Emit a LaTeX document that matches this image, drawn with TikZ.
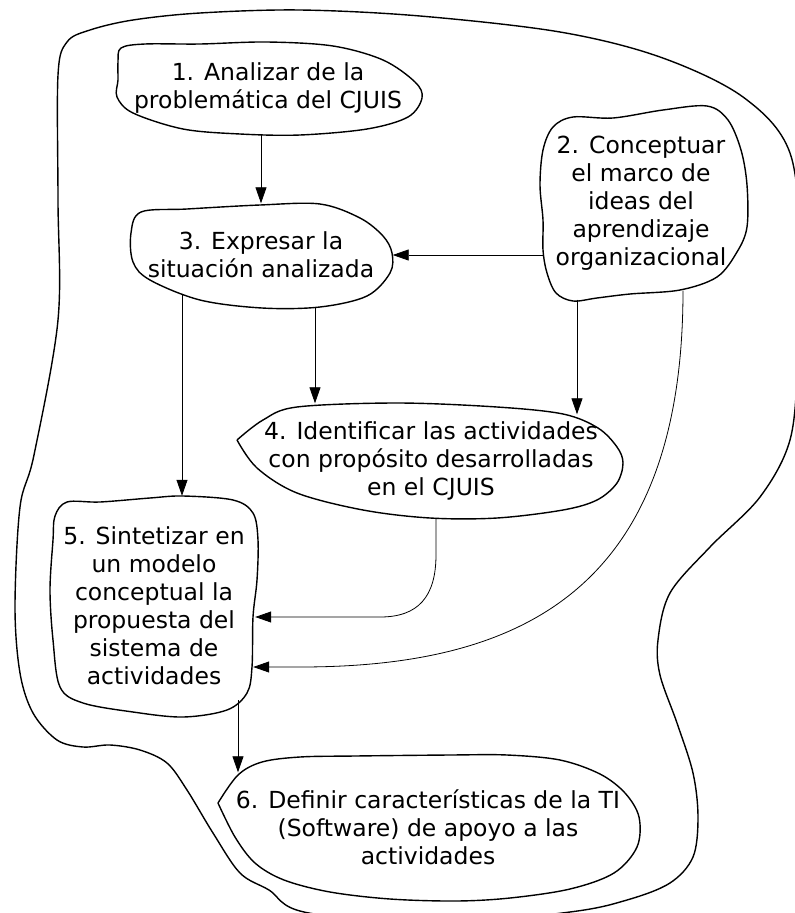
\documentclass[tikz,border=0pt]{standalone}
\usepackage{fontspec}
\setmainfont{DejaVu Sans}
\usetikzlibrary{arrows.meta}

\begin{document}
\begin{tikzpicture}[x=1pt, y=-1pt,
	lbl/.style={align=center, inner sep=0pt, font=\fontsize{23.5}{28}\selectfont},
	blob/.style={line width=1.4pt, line join=round},
	arr/.style={line width=0.8pt, -{Triangle[length=16pt,width=11pt]}}]

	\useasboundingbox (0,0) rectangle (795,913);

	%outer boundary of the system
	\draw[blob] plot[smooth cycle, tension=0.55] coordinates {
		(58,320) (58,200) (58,75) (67,42) (90,30) (133,20) (200,13) (300,10)
		(420,16) (560,32) (660,57) (743,97) (790,153) (801,260) (798,360)
		(790,440) (760,497) (710,547) (670,593) (658,640) (660,675) (677,723)
		(693,773) (698,817) (693,857) (670,883) (627,900) (570,912) (430,925)
		(304,912) (269,890) (240,873) (213,833) (187,790) (167,763) (140,750)
		(110,745) (83,747) (57,740) (33,713) (20,673) (15,607) (20,507) (34,455)};

	%the activities
	\node[lbl, minimum width=307pt, minimum height=92pt] (n1) at (268,88) {1. Analizar de la\\problemática del CJUIS};
	\node[lbl, minimum width=196pt, minimum height=193pt] (n2) at (641,203) {2. Conceptuar\\el marco de\\ideas del\\aprendizaje\\organizacional};
	\node[lbl, minimum width=263pt, minimum height=103pt] (n3) at (261,255) {3. Expresar la\\situación analizada};
	\node[lbl, minimum width=386pt, minimum height=115pt] (n4) at (431,461) {4. Identificar las actividades\\con propósito desarrolladas\\en el CJUIS};
	\node[lbl, minimum width=208pt, minimum height=220pt] (n5) at (154,606) {5. Sintetizar en\\un modelo\\conceptual la\\propuesta del\\sistema de\\actividades};
	\node[lbl, minimum width=422pt, minimum height=145pt] (n6) at (428,827) {6. Definir características de la TI\\(Software) de apoyo a las\\actividades};

	%outlines of the activities
	\draw[blob] plot[smooth cycle, tension=0.55] coordinates {
		(121,48) (145,44) (200,44) (267,42) (333,46) (383,60) (415,82) (422,98)
		(408,117) (367,129) (300,135) (240,134) (183,129) (133,113) (117,97)
		(118,80) (118,62)};
	\draw[blob] plot[smooth cycle, tension=0.55] coordinates {
		(553,127) (573,117) (613,118) (663,110) (707,106) (728,120) (741,150)
		(747,185) (747,227) (737,252) (717,277) (680,290) (630,294) (597,298)
		(573,301) (556,293) (547,273) (543,250) (543,220) (540,185) (543,150)};
	\draw[blob] plot[smooth cycle, tension=0.55] coordinates {
		(141,212) (187,209) (260,205) (320,204) (360,218) (383,236) (392,253)
		(390,273) (367,296) (320,307) (262,308) (200,300) (150,280) (133,262)
		(131,233)};
	\draw[blob] plot[smooth, tension=0.55] coordinates {
		(237,440) (263,420) (297,407) (397,403) (497,407) (563,414) (598,428)
		(617,447) (623,463) (617,483) (597,500) (563,510) (497,518) (430,518)
		(363,510) (297,493) (257,468) (237,440)};
	\draw[blob] plot[smooth cycle, tension=0.55] coordinates {
		(55,516) (67,502) (100,502) (150,498) (183,496) (233,500) (253,513)
		(258,540) (257,580) (253,617) (252,667) (247,693) (227,710) (183,717)
		(133,712) (83,703) (60,687) (53,640) (50,590) (53,540)};
	\draw[blob] plot[smooth, tension=0.55] coordinates {
		(218,803) (238,775) (262,762) (300,757) (355,756) (450,755) (507,755)
		(560,760) (600,774) (625,793) (639,817) (637,847) (614,873) (570,889)
		(510,898) (456,901) (390,899) (330,892) (284,880) (255,863) (235,837)
		(218,803)};

	%connectors
	\draw[arr] (n1.south -| n3.north) -- (n3.north);
	\draw[arr] (n2.west |- n3.east) -- (n3.east);
	\draw[arr] ([xshift=54pt]n3.south) -- ([xshift=54pt]n3.south |- n4.north);
	\draw[arr] ([xshift=-79pt,yshift=13pt]n3.south) -- ([xshift=-79pt]n3.south |- n5.north);
	\draw[arr] ([xshift=-64pt]n2.south) -- ([xshift=146pt,yshift=-11pt]n4.north);
	\draw[arr] ([xshift=5pt]n4.south) -- ++(0,36) .. controls +(0,42) and +(38,0) .. ([xshift=122pt,yshift=-11pt]n5.east) -- ([xshift=-3pt,yshift=-11pt]n5.east);
	\draw[arr] ([xshift=42pt,yshift=9pt]n2.south) .. controls +(0,300) and +(220,0) .. ([xshift=42pt,yshift=-61pt]n5.east) -- ([xshift=-5pt,yshift=-61pt]n5.east);
	\draw[arr] ([xshift=84pt,yshift=16pt]n5.south) -- ([xshift=-190pt,yshift=-18pt]n6.north);
\end{tikzpicture}
\end{document}
